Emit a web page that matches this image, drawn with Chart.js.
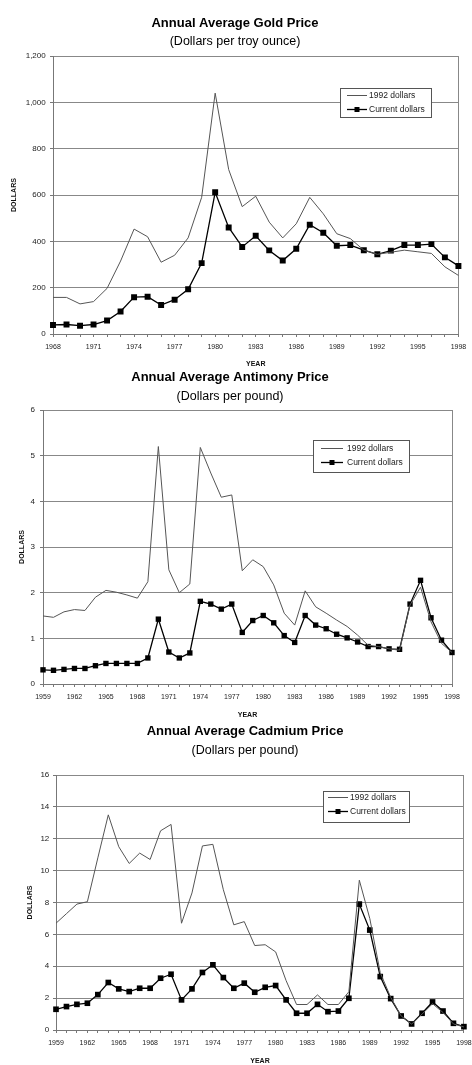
<!DOCTYPE html>
<html>
<head>
<meta charset="utf-8">
<script src="https://cdn.jsdelivr.net/npm/chart.js@4"></script>
<style>
  html, body { margin: 0; padding: 0; background: #fff; }
  body { position: relative; width: 472px; height: 1065px; overflow: hidden; }
  canvas { position: absolute; }
</style>
</head>
<body>
<canvas id="gold" width="464" height="369" style="left:8px;top:0px"></canvas>
<canvas id="antimony" width="464" height="360" style="left:8px;top:360px"></canvas>
<canvas id="cadmium" width="454" height="347" style="left:24px;top:718px"></canvas>
<script>
// gold, 1968-1998
var goldYears = [1968,1969,1970,1971,1972,1973,1974,1975,1976,1977,1978,1979,1980,1981,1982,1983,1984,1985,1986,1987,1988,1989,1990,1991,1992,1993,1994,1995,1996,1997,1998];
var gold1992 = [158,158,130,140,197,315,453,420,310,340,415,590,1040,710,550,595,483,415,476,590,519,433,412,362,344,353,362,355,348,290,253];
var goldCurrent = [39,41,36,41,58,97,159,161,125,148,193,306,612,460,376,424,361,317,368,472,437,381,384,362,344,360,384,384,388,331,294];
var goldTicks = [1968,1971,1974,1977,1980,1983,1986,1989,1992,1995,1998];

// antimony and cadmium, 1959-1998
var years59 = [1959,1960,1961,1962,1963,1964,1965,1966,1967,1968,1969,1970,1971,1972,1973,1974,1975,1976,1977,1978,1979,1980,1981,1982,1983,1984,1985,1986,1987,1988,1989,1990,1991,1992,1993,1994,1995,1996,1997,1998];
var ticks59 = [1959,1962,1965,1968,1971,1974,1977,1980,1983,1986,1989,1992,1995,1998];
var anti1992 = [1.49,1.46,1.58,1.63,1.61,1.90,2.05,2.01,1.95,1.88,2.24,5.20,2.50,2.00,2.19,5.18,4.62,4.09,4.14,2.48,2.72,2.57,2.17,1.55,1.29,2.04,1.69,1.55,1.40,1.26,1.07,0.85,0.82,0.77,0.74,1.73,2.12,1.36,0.89,0.69];
var antiCurrent = [0.31,0.30,0.32,0.34,0.34,0.40,0.45,0.45,0.45,0.45,0.57,1.42,0.70,0.57,0.68,1.81,1.75,1.64,1.75,1.13,1.39,1.50,1.34,1.06,0.91,1.50,1.29,1.21,1.09,1.01,0.92,0.82,0.82,0.77,0.76,1.75,2.27,1.45,0.96,0.69];
var cad1992 = [6.7,7.3,7.9,8.05,10.8,13.5,11.5,10.45,11.1,10.7,12.5,12.9,6.7,8.6,11.55,11.65,8.8,6.6,6.8,5.3,5.35,4.9,3.1,1.6,1.6,2.2,1.6,1.6,2.4,9.4,7.0,3.6,2.05,0.88,0.37,1.0,1.65,1.1,0.38,0.19];
var cadCurrent = [1.30,1.47,1.61,1.68,2.22,2.98,2.58,2.41,2.62,2.62,3.25,3.50,1.89,2.58,3.61,4.09,3.29,2.62,2.94,2.37,2.68,2.79,1.89,1.05,1.05,1.61,1.15,1.19,1.99,7.90,6.27,3.35,1.97,0.88,0.38,1.05,1.76,1.19,0.42,0.21];

Chart.defaults.font.family = "'Liberation Sans', Arial, sans-serif";
Chart.defaults.color = '#222';
Chart.defaults.animation = false;

// legend in a bordered box inside the plot, like the spreadsheet one
var boxLegend = {
  id: 'boxLegend',
  afterDraw: function (chart, args, o) {
    var ctx = chart.ctx;
    ctx.save();
    ctx.fillStyle = '#fff';
    ctx.fillRect(o.x, o.y, o.w, o.h);
    ctx.strokeStyle = '#555';
    ctx.lineWidth = 1;
    ctx.strokeRect(o.x + 0.5, o.y + 0.5, o.w, o.h);
    ctx.font = o.size + "px 'Liberation Sans', Arial, sans-serif";
    ctx.textBaseline = 'middle';
    chart.data.datasets.forEach(function (ds, i) {
      var ly = Math.round(o.y + o.rows[i]) + 0.5;
      ctx.strokeStyle = ds.borderColor;
      ctx.lineWidth = ds.borderWidth;
      ctx.beginPath();
      ctx.moveTo(o.x + o.l0, ly);
      ctx.lineTo(o.x + o.l1, ly);
      ctx.stroke();
      if (ds.pointRadius) {
        var m = o.x + (o.l0 + o.l1) / 2, s = 2.5;
        ctx.fillStyle = ds.pointBackgroundColor;
        ctx.fillRect(m - s, ly - s, 2 * s, 2 * s);
      }
      ctx.fillStyle = '#222';
      ctx.fillText(ds.label, o.x + o.tx, ly);
    });
    ctx.restore();
  }
};

function makeChart(id, cfg) {
  var n = cfg.labels.length;
  new Chart(document.getElementById(id), {
    type: 'line',
    data: {
      labels: cfg.labels,
      datasets: [{
        label: '1992 dollars',
        data: cfg.real,
        borderColor: '#555',
        borderWidth: 1,
        pointRadius: 0,
        tension: 0,
        clip: 8
      }, {
        label: 'Current dollars',
        data: cfg.current,
        borderColor: '#000',
        borderWidth: 1.3,
        pointStyle: 'rect',
        pointRadius: cfg.mark,
        pointBackgroundColor: '#000',
        pointBorderColor: '#000',
        pointBorderWidth: 0,
        tension: 0,
        clip: 8
      }]
    },
    options: {
      responsive: false,
      layout: { padding: { left: 0, right: cfg.padRight, top: 0, bottom: 0 } },
      plugins: {
        legend: { display: false },
        tooltip: { enabled: false },
        title: {
          display: true, text: cfg.title, color: '#000',
          font: { size: 13, weight: 'bold' },
          padding: { top: cfg.titleTop, bottom: 0 }
        },
        subtitle: {
          display: true, text: cfg.subtitle, color: '#000',
          font: { size: 12.5 },
          padding: { top: cfg.subTop, bottom: cfg.subBottom }
        },
        boxLegend: cfg.legend
      },
      scales: {
        x: {
          type: 'category',
          offset: false,
          grid: {
            drawOnChartArea: true,
            color: function (c) { return c.index === n - 1 ? '#888' : 'rgba(0,0,0,0)'; },
            tickColor: '#777',
            tickLength: 3
          },
          border: { display: true, color: '#777' },
          ticks: {
            autoSkip: false, maxRotation: 0, padding: cfg.xPad,
            font: { size: 7 },
            callback: function (v, i) {
              var y = cfg.labels[i];
              return cfg.tickYears.indexOf(y) >= 0 ? String(y) : '';
            }
          },
          title: {
            display: true, text: 'YEAR', color: '#111',
            font: { size: 7, weight: 'bold' },
            padding: { top: 0, bottom: cfg.yearBottom }
          },
          afterFit: function (s) { s.height = cfg.xHeight; }
        },
        y: {
          min: 0, max: cfg.max,
          grid: { color: '#888', tickColor: '#777', tickLength: 3 },
          border: { display: true, color: '#777' },
          ticks: {
            stepSize: cfg.step, padding: cfg.yPad,
            font: { size: 8 },
            callback: function (v) { return v.toLocaleString('en-US'); }
          },
          title: {
            display: true, text: 'DOLLARS', color: '#111',
            font: { size: 7, weight: 'bold' },
            padding: { top: cfg.dollarsTop, bottom: 0 }
          },
          afterFit: function (s) { s.width = cfg.yWidth; }
        }
      }
    },
    plugins: [boxLegend]
  });
}

makeChart('gold', {
  labels: goldYears, real: gold1992, current: goldCurrent, tickYears: goldTicks,
  title: 'Annual Average Gold Price', subtitle: '(Dollars per troy ounce)',
  max: 1200, step: 200, mark: 4.2,
  padRight: 10, titleTop: 16, subTop: 2, subBottom: 7.5,
  xHeight: 35, xPad: 5.8, yearBottom: 0.8,
  yWidth: 45, yPad: 4.3, dollarsTop: 1.8,
  legend: { x: 332, y: 88, w: 91, h: 29, rows: [6.5, 20.5], l0: 7, l1: 27, tx: 29, size: 8.5 }
});

makeChart('antimony', {
  labels: years59, real: anti1992, current: antiCurrent, tickYears: ticks59,
  title: 'Annual Average Antimony Price', subtitle: '(Dollars per pound)',
  max: 6, step: 1, mark: 3.8,
  padRight: 20, titleTop: 9.7, subTop: 3.7, subBottom: 6,
  xHeight: 36, xPad: 5.8, yearBottom: 0.8,
  yWidth: 35, yPad: 5, dollarsTop: 9.5,
  legend: { x: 305, y: 80, w: 96, h: 32, rows: [8.3, 22.3], l0: 8, l1: 30, tx: 34, size: 8.5 }
});

makeChart('cadmium', {
  labels: years59, real: cad1992, current: cadCurrent, tickYears: ticks59,
  title: 'Annual Average Cadmium Price', subtitle: '(Dollars per pound)',
  max: 16, step: 2, mark: 4,
  padRight: 12, titleTop: 5.2, subTop: 4.7, subBottom: 16.5,
  xHeight: 35, xPad: 6.3, yearBottom: 0,
  yWidth: 32, yPad: 3.7, dollarsTop: 1.8,
  legend: { x: 299, y: 73, w: 86, h: 31, rows: [6.3, 20], l0: 5, l1: 25, tx: 27, size: 8.5 }
});
</script>
</body>
</html>
